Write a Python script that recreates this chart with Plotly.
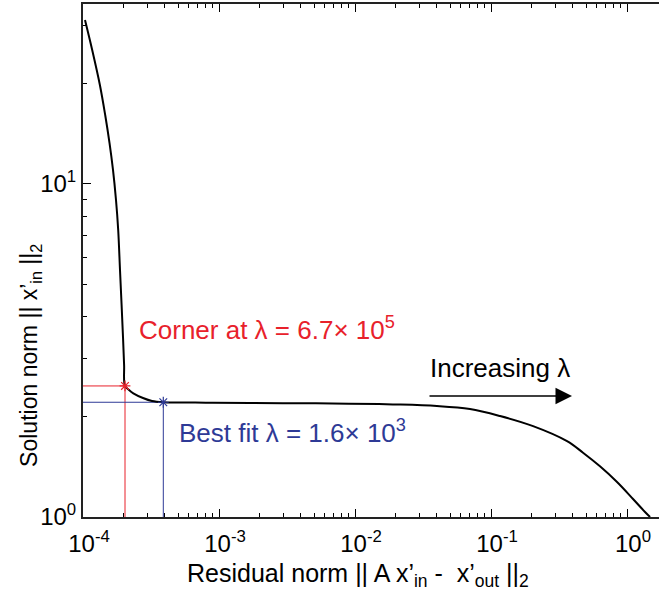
import plotly.graph_objects as go
import numpy as np

# L-curve data (residual norm, solution norm)
resid_norm = [1.0344e-4, 1.1686e-4, 1.3310e-4, 1.4562e-4, 1.5663e-4, 1.6617e-4, 1.7483e-4,
              1.8146e-4, 1.8710e-4, 1.9223e-4, 1.9684e-4, 2.0054e-4, 2.036e-4, 2.179e-4,
              2.344e-4, 2.761e-4, 3.217e-4, 3.894e-4, 8.0e-4, 1.69e-3, 3.9e-3, 9.0e-3,
              1.9e-2, 4.0e-2, 7.0e-2, 0.1165, 0.2038, 0.3622, 0.4747, 0.6324, 0.8444,
              1.1069, 1.3561, 1.4761]
sol_norm = [31.08, 25.26, 19.83, 16.11, 13.28, 11.02, 8.954,
            7.276, 5.517, 4.331, 3.471, 2.860, 2.475, 2.407,
            2.352, 2.277, 2.230, 2.211, 2.205, 2.200, 2.196, 2.190,
            2.178, 2.155, 2.110, 2.010, 1.875, 1.690, 1.560, 1.420, 1.274,
            1.1327, 1.0352, 1.0]

corner_point = (2.036e-4, 2.475)
best_point = (3.894e-4, 2.211)

x_tick_vals = [1e-4, 1e-3, 1e-2, 1e-1, 1e0]
x_tick_text = ["10<sup>-4</sup>", "10<sup>-3</sup>", "10<sup>-2</sup>", "10<sup>-1</sup>", "10<sup>0</sup>"]
y_tick_vals = [1, 10]
y_tick_text = ["10<sup>0</sup>", "10<sup>1</sup>"]

x_range_log = [-4, 0.235]
y_range_log = [0, 1.5405]

RED = "#e8212b"
BLUE = "#2e3a96"
FONT = "Liberation Sans, Arial, sans-serif"

x_min = 10 ** x_range_log[0]
y_min = 10 ** y_range_log[0]

x_minor = [m * 10.0 ** e for e in range(-4, 1) for m in range(2, 10)]
y_minor = [m * 10.0 ** e for e in range(0, 2) for m in range(2, 10)]

fig = go.Figure()

# guide lines
fig.add_trace(go.Scatter(x=[x_min, corner_point[0], corner_point[0]],
                         y=[corner_point[1], corner_point[1], y_min],
                         mode="lines", line=dict(color=RED, width=1), showlegend=False))
fig.add_trace(go.Scatter(x=[x_min, best_point[0], best_point[0]],
                         y=[best_point[1], best_point[1], y_min],
                         mode="lines", line=dict(color=BLUE, width=1), showlegend=False))

# curve
fig.add_trace(go.Scatter(x=resid_norm, y=sol_norm, mode="lines",
                         line=dict(color="black", width=2, shape="spline", smoothing=1.0),
                         showlegend=False))

# markers
fig.add_trace(go.Scatter(x=[corner_point[0]], y=[corner_point[1]], mode="markers",
                         marker=dict(symbol="asterisk-open", size=9, color=RED,
                                     line=dict(color=RED, width=1.2)),
                         showlegend=False))
fig.add_trace(go.Scatter(x=[best_point[0]], y=[best_point[1]], mode="markers",
                         marker=dict(symbol="asterisk-open", size=9, color=BLUE,
                                     line=dict(color=BLUE, width=1.2)),
                         showlegend=False))

annotations = [
    dict(x=np.log10(2.49e-4), y=np.log10(3.67), xref="x", yref="y", xanchor="left", yanchor="middle",
         text="Corner at λ = 6.7× 10<sup>5</sup>", showarrow=False,
         font=dict(color=RED, size=26, family=FONT)),
    dict(x=np.log10(4.91e-4), y=np.log10(1.80), xref="x", yref="y", xanchor="left", yanchor="middle",
         text="Best fit λ = 1.6× 10<sup>3</sup>", showarrow=False,
         font=dict(color=BLUE, size=26, family=FONT)),
    dict(x=np.log10(0.0344), y=np.log10(2.80), xref="x", yref="y", xanchor="left", yanchor="middle",
         text="Increasing λ", showarrow=False,
         font=dict(color="black", size=26, family=FONT)),
    dict(x=np.log10(0.394), y=np.log10(2.31), ax=np.log10(0.0344), ay=np.log10(2.31),
         xref="x", yref="y", axref="x", ayref="y", text="", showarrow=True,
         arrowhead=2, arrowsize=2.2, arrowwidth=1.5, arrowcolor="black"),
    dict(x=0.478, y=-0.113, xref="paper", yref="paper", xanchor="center", yanchor="middle",
         text="Residual norm || A x’<sub>in</sub> -  x’<sub>out</sub> ||<sub>2</sub>",
         showarrow=False, font=dict(size=25, family=FONT, color="black")),
    dict(x=-0.0903, y=0.316, xref="paper", yref="paper", xanchor="center", yanchor="middle",
         text="Solution norm || x’<sub>in</sub> ||<sub>2</sub>", textangle=-90,
         showarrow=False, font=dict(size=23, family=FONT, color="black")),
]

fig.update_layout(
    width=659, height=600,
    margin=dict(l=83, r=0, t=4, b=83),
    paper_bgcolor="white", plot_bgcolor="white",
    font=dict(family=FONT, size=24, color="black"),
    annotations=annotations,
    xaxis=dict(type="log", range=x_range_log, tickvals=x_tick_vals, ticktext=x_tick_text,
               ticks="inside", ticklen=8, tickwidth=1, tickcolor="black",
               showline=True, linecolor="#222", linewidth=2, mirror="allticks",
               showgrid=False, zeroline=False, automargin=False,
               ticklabelshift=6, ticklabelstandoff=4,
               minor=dict(tickvals=x_minor, ticks="inside", ticklen=4, tickcolor="black", showgrid=False),
               tickfont=dict(size=24, family=FONT)),
    yaxis=dict(type="log", range=y_range_log, tickvals=y_tick_vals, ticktext=y_tick_text,
               ticks="inside", ticklen=8, tickwidth=1, tickcolor="black",
               showline=True, linecolor="#222", linewidth=2, mirror=False,
               showgrid=False, zeroline=False, automargin=False,
               minor=dict(tickvals=y_minor, ticks="inside", ticklen=4, tickcolor="black", showgrid=False),
               tickfont=dict(size=24, family=FONT)),
)

fig.write_html("out.html", config={"displayModeBar": False},
               post_script="document.body.style.margin='0px';document.body.style.padding='0px';")
